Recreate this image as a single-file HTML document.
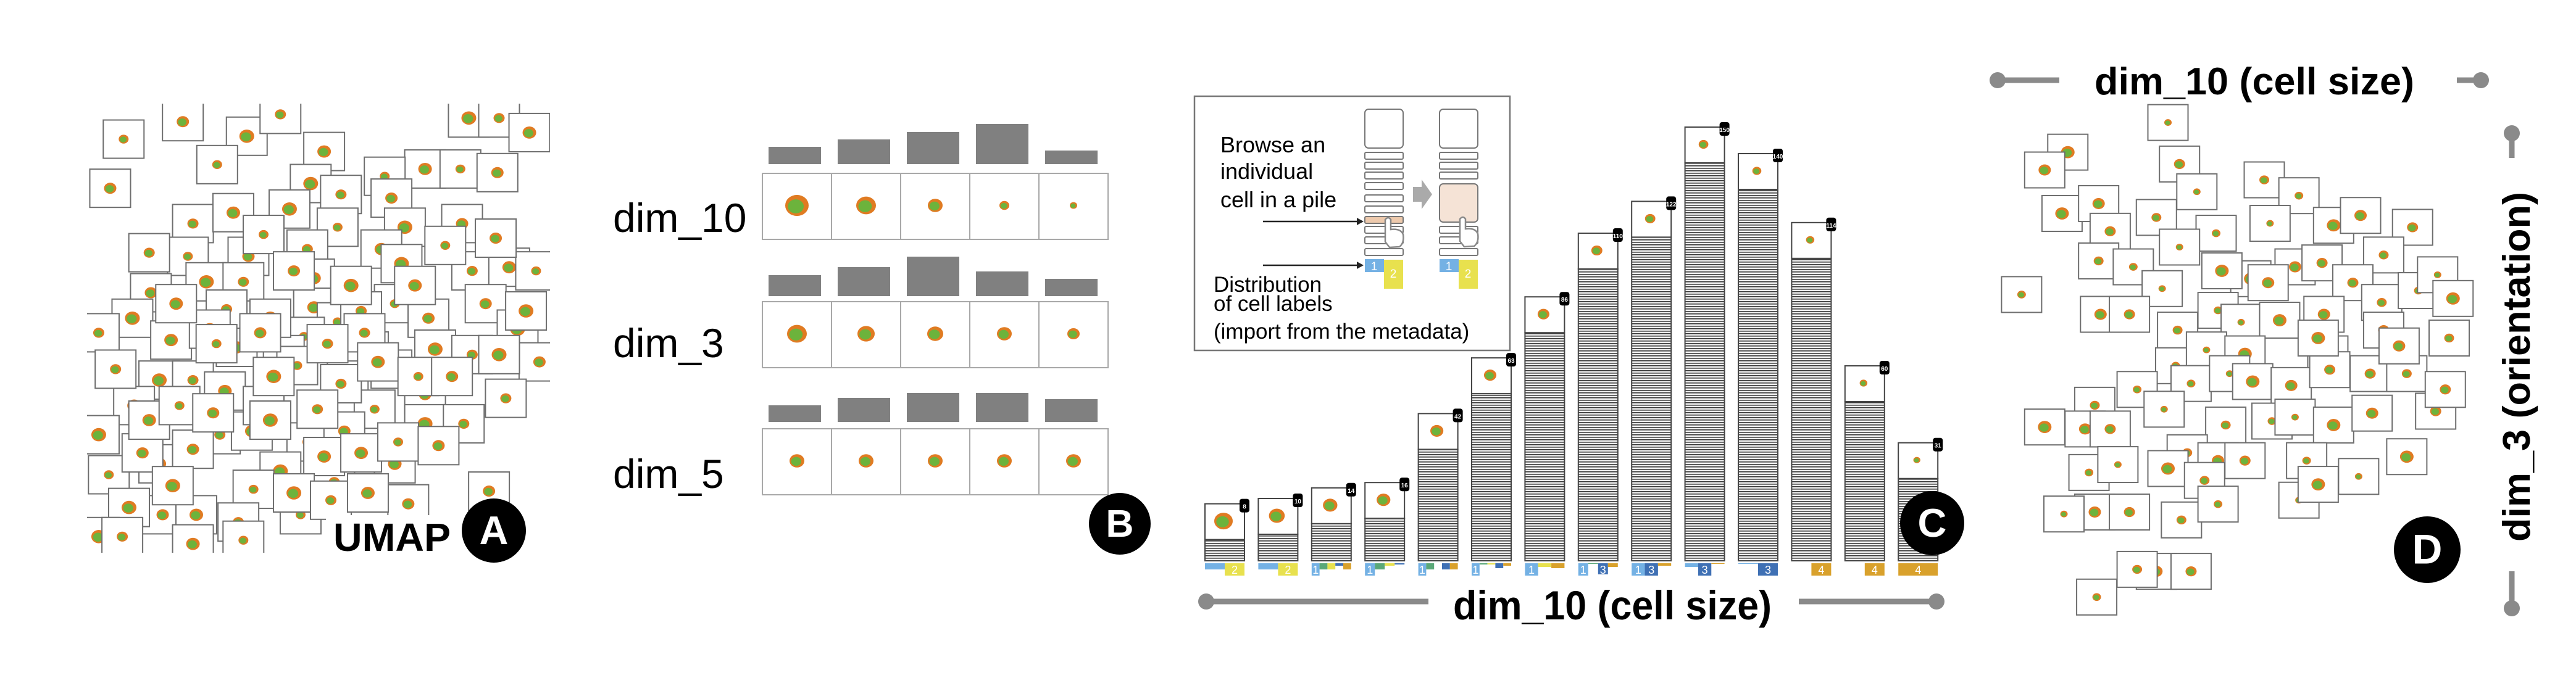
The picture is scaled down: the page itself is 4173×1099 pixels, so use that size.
<!DOCTYPE html>
<html><head><meta charset="utf-8"><title>Cell piles figure</title>
<style>
html,body{margin:0;padding:0;background:#fff;}
svg{display:block;font-family:"Liberation Sans",sans-serif;}
</style></head>
<body>
<svg id="fig" xmlns="http://www.w3.org/2000/svg" width="4173" height="1099" viewBox="0 0 4173 1099">
<defs>
<pattern id="stripes" patternUnits="userSpaceOnUse" width="10" height="4">
<rect width="10" height="4" fill="#f4f4f4"/><rect y="0" width="10" height="1.6" fill="#3a3a3a"/>
</pattern>
</defs>
<rect width="4173" height="1099" fill="#fff"/>
<g id="panelA"></g>
<g id="panelB"></g>
<g id="panelC"></g>
<g id="panelD"></g>
</svg>
<script>
// ---------- data ----------
const umapX=[1.84,3.6,5.5,6.5,7.8,4.62,1.44,7.4,8.3,10.8,11.85,12.95,12.1,13.0,13.9,9.6,9.8,6.77,3.9,5.1,8.2,11.9,10.2,7.3,9.5,3.75,5.55,10.1,12.2,13.3,14.1,2.65,4.3,5.4,7.5,9.9,12.6,2.1,4.9,7.5,8.2,10.9,13.55,1.1,3.25,7.2,9.1,11.1,12.2,5.2,6.6,14.2,2.9,3.9,4.85,7.0,8.5,9.8,13.2,2.15,9.3,10.8,1.1,4.7,5.65,7.3,8.4,10.8,11.95,2.9,1.4,3.9,6.5,8.1,9.9,5.7,3.0,2.0,5.25,4.0,7.1,10.3,1.1,1.8,3.9,5.4,12.7,6.2,8.9,4.4,6.0,2.4,3.3,8.3,7.8,
 6.0,6.9,8.6,9.0,10.5,11.4,12.9,13.8,2.6,3.4,4.6,5.9,6.3,7.9,9.4,10.6,11.6,13.0,1.6,2.6,3.5,4.5,6.2,7.6,8.9,10.0,11.2,6.9,8.0,9.1];
const umapY=[1.28,0.8,1.2,0.6,1.62,1.98,2.63,2.5,2.8,2.1,2.1,2.2,0.7,0.7,1.1,2.3,2.9,3.2,3.6,3.3,3.7,3.6,3.7,4.3,4.3,4.5,4.5,4.7,4.9,4.8,4.9,5.5,5.2,5.2,5.1,5.8,5.8,6.2,5.95,5.9,6.3,6.2,6.5,6.6,6.8,6.7,7.1,7.05,7.2,7.0,7.2,7.4,7.9,7.9,8.2,7.5,7.9,7.6,8.4,8.6,8.7,8.3,9.4,9.4,9.3,9.6,9.3,9.1,9.1,10.2,10.5,9.8,10.4,10.7,10.2,10.9,11.6,11.4,11.8,11.6,11.6,11.3,12.2,12.2,12.4,12.3,10.95,6.2,6.0,6.5,8.6,9.9,10.8,8.0,10.0,
 3.9,4.9,5.3,6.6,5.3,4.2,4.0,6.0,4.4,5.8,6.9,6.6,7.8,6.9,7.4,7.8,7.8,7.2,7.6,9.0,8.6,8.8,9.0,8.7,9.9,9.6,9.7,11.0,11.2,11.0];
const tsneX=[5.0,2.4,1.8,5.3,7.5,8.4,5.75,2.25,3.2,3.5,4.7,6.25,7.65,9.3,10.0,11.35,3.2,4.1,5.3,7.15,8.3,9.0,10.6,1.2,4.85,6.4,7.6,9.8,10.55,11.5,12.0,12.4,3.25,4.0,5.25,6.3,6.9,7.9,9.05,10.6,12.3,5.2,6.0,7.0,9.15,10.25,11.2,5.6,6.6,7.2,8.2,9.2,3.1,4.2,4.9,1.8,2.85,3.5,6.5,7.7,8.3,9.3,10.3,11.95,5.5,2.95,3.7,5.0,6.3,7.0,5.95,8.6,9.95,11.2,3.1,4.0,5.35,6.3,8.4,8.9,4.7,5.6,4.2,3.15,2.3,8.9,11.0,12.2];
const tsneY=[1.85,2.6,3.05,2.9,3.3,3.7,3.6,4.15,3.9,4.6,4.25,4.65,4.4,4.45,4.2,4.5,5.35,5.5,5.0,5.8,5.5,5.4,5.2,6.2,6.05,5.6,5.9,5.9,6.4,6.1,5.7,6.3,6.7,6.7,7.1,6.6,6.9,6.85,6.7,7.1,7.3,8.0,7.6,7.7,7.7,8.2,8.2,8.45,8.2,8.4,8.5,8.1,9.0,8.6,9.1,9.55,9.6,9.6,9.5,9.4,9.3,9.5,9.2,9.15,10.2,10.7,10.5,10.6,10.4,10.4,10.9,10.4,10.8,10.3,11.7,11.7,11.9,11.5,11.4,11.0,13.2,13.2,13.15,13.85,11.75,7.3,7.5,8.6];
const histDim10=[28,40,52,65,22];
const histDim3=[34,47,64,40,28];
const histDim5=[27,39,47,47,37];
const blobDim10=[19,16,12,8,6];
const blobDim3=[16,14,13,12,10];
const blobDim5=[12,12,12,12,12];
const pileCounts=[8,10,14,16,42,63,86,110,122,150,140,114,60,31];
const pileLabelCats=[[1,2],[1,2],[1,5,2,3,4],[1,5,2,3],[1,5,2,3,4],[1,5,2,3,4],[1,2,4],[1,5,3,4],[1,3,4],[1,3,4],[1,3],[3,4],[3,4],[4]];
const pileLabelShares=[[.5,1],[.5,1],[1,.5,.5,.2,.5],[1,.5,.2,.1],[1,.5,0,.5,.5],[1,.1,.1,.4,.2],[1,.3,.4],[1,.05,.9,.3],[1,1,.2],[.3,1,.05],[.05,1],[0,1],[0,1],[1]];
const pileBlob=[20,16,14,13,12,11,10,9,8,7,6,5,4,3];

// ---------- helpers ----------
const NS="http://www.w3.org/2000/svg";
function mk(tag,attrs,parent){const e=document.createElementNS(NS,tag);for(const k in attrs)e.setAttribute(k,attrs[k]);parent.appendChild(e);return e;}
const catColor={1:"#74b1e4",2:"#e8e14e",3:"#3f70b4",4:"#d9a12c",5:"#5aa878"};
function blob(g,cx,cy,r){
  const o=mk("ellipse",{cx:cx,cy:cy,rx:r,ry:r*0.9,fill:"#e07b22"},g);
  
  
  const n=mk("ellipse",{cx:cx-r*0.1,cy:cy+r*0.08,rx:r*0.68,ry:r*0.6,fill:"#6cb33c"},g);
  
  
}
function thumb(g,cx,cy,w,h,r){
  const t=mk("g",{},g);
  
  
  mk("rect",{x:cx-w/2,y:cy-h/2,width:w,height:h,fill:"#fff",stroke:"#6e6e6e","stroke-width":2},t);
  blob(t,cx,cy,r);
}
function badge(g,cx,cy,letter,r){
  const b=mk("g",{},g);
  
  
  mk("circle",{cx:cx,cy:cy,r:r,fill:"#000"},b);
  const t=mk("text",{x:cx,y:cy+r*0.42,"text-anchor":"middle","font-size":r*1.25,"font-weight":"bold",fill:"#fff"},b);
  t.textContent=letter;
}
function axisLine(g,x1,y1,x2,y2,dotAtStart,name){
  const a=mk("g",{},g);
  
  
  mk("line",{x1:x1,y1:y1,x2:x2,y2:y2,stroke:"#8a8a8a","stroke-width":9},a);
  mk("circle",{cx:dotAtStart?x1:x2,cy:dotAtStart?y1:y2,r:13,fill:"#8a8a8a"},a);
}

// ---------- Panel A ----------
const A=document.getElementById("panelA");
const ax=v=>100+54.5*v, ay=v=>150+59*v;
const aClip=mk("clipPath",{id:"clipA"},document.querySelector("defs"));
mk("rect",{x:141,y:168,width:750,height:728},aClip);
const aG=mk("g",{"clip-path":"url(#clipA)"},A);
for(let i=0;i<umapX.length;i++){thumb(aG,ax(umapX[i]),ay(umapY[i]),66,62,8+((i*7)%5));}
mk("rect",{x:528,y:835,width:210,height:70,fill:"#fff"},A);
const umapT=mk("text",{x:540,y:893,"font-size":64,"font-weight":"bold",textLength:190,lengthAdjust:"spacingAndGlyphs"},A);


umapT.textContent="UMAP";
badge(A,800,860,"A",52);

// ---------- Panel B ----------
const B=document.getElementById("panelB");
const rows=[{name:"dim_10",h:histDim10,b:blobDim10,barBase:266,cellTop:281,base:376},
            {name:"dim_3",h:histDim3,b:blobDim3,barBase:480,cellTop:489,base:579},
            {name:"dim_5",h:histDim5,b:blobDim5,barBase:684,cellTop:695,base:791}];
const bx=i=>1235+112*i;
rows.forEach((row,ri)=>{
  const rg=mk("g",{},B);
  
  
  const lab=mk("text",{x:993,y:row.base,"font-size":66},rg);
  
  
  lab.textContent=row.name;
  row.h.forEach((v,i)=>{
    const bar=mk("rect",{x:bx(i)+10,y:row.barBase-v,width:85,height:v,fill:"#808080"},rg);
    
    
    const c=mk("g",{},rg);
    
    
    mk("rect",{x:bx(i),y:row.cellTop,width:112,height:107,fill:"#fff",stroke:"#a8a8a8","stroke-width":2},c);
    blob(c,bx(i)+56,row.cellTop+52,row.b[i]);
  });
});
badge(B,1814,849,"B",50);

// ---------- Panel C ----------
const C=document.getElementById("panelC");
const px=i=>1952+86.4*i;
const pileBottom=909, perItem=4.3;
const py=v=>pileBottom-v*perItem;
pileCounts.forEach((n,i)=>{
  const g=mk("g",{},C);
  
  
  const x=px(i), top=py(n);
  mk("rect",{x:x,y:top,width:64,height:pileBottom-top,fill:"url(#stripes)",stroke:"#444","stroke-width":2},g);
  mk("rect",{x:x,y:top-58,width:64,height:58,fill:"#fff",stroke:"#444","stroke-width":2},g);
  blob(g,x+30,top-30,pileBlob[i]*0.55+4);
  const bd=mk("g",{},g);
  
  
  mk("rect",{x:x+56,y:top-66,width:16,height:22,rx:4,fill:"#000"},bd);
  const bt=mk("text",{x:x+64,y:top-50,"font-size":10,"font-weight":"bold",fill:"#fff","text-anchor":"middle"},bd);
  bt.textContent=n;
  const cats=pileLabelCats[i], sh=pileLabelShares[i], w=64/cats.length;
  cats.forEach((cat,k)=>{
    const hh=20*sh[k]; if(hh<=0)return;
    const s=mk("rect",{x:x+k*w,y:913,width:w,height:hh,fill:catColor[cat]},g);
    
    
    if(hh>=14){const t=mk("text",{x:x+k*w+w/2,y:930,"font-size":18,fill:"#fff","text-anchor":"middle"},g);t.textContent=cat;}
  });
});
axisLine(C,1954,975,2314,975,true,"x-axis-line-left");
axisLine(C,2914,975,3137,975,false,"x-axis-line-right");
const ct=mk("text",{x:2354,y:1004,"font-size":66,"font-weight":"bold",textLength:516,lengthAdjust:"spacingAndGlyphs"},C);


ct.textContent="dim_10 (cell size)";
badge(C,3130,848,"C",52);

// inset
const I=mk("g",{},C);


mk("rect",{x:1935,y:156,width:511,height:412,fill:"#fff",stroke:"#777","stroke-width":2.5},I);
[["Browse an",247],["individual",290],["cell in a pile",336]].forEach(l=>{const t=mk("text",{x:1977,y:l[1],"font-size":36},I);t.textContent=l[0];});
[["Distribution",473],["of cell labels",504],["(import from the metadata)",549]].forEach(l=>{const t=mk("text",{x:1966,y:l[1],"font-size":35},I);t.textContent=l[0];});
const rowsL=[247,263,279,296,316,334,351,367,384,403];
[2211,2332].forEach((x0,pi)=>{
  mk("rect",{x:x0,y:177,width:62,height:63,rx:6,fill:"#fff",stroke:"#777","stroke-width":2},I);
  rowsL.forEach((ry,k)=>{
    if(pi===1&&k>=3&&k<=6){ if(k===3) mk("rect",{x:x0,y:298,width:62,height:62,rx:6,fill:"#f5e3d6",stroke:"#777","stroke-width":2},I); return;}
    mk("rect",{x:x0,y:ry,width:62,height:11,rx:2,fill:(pi===0&&k===6)?"#eecaad":"#fff",stroke:"#777","stroke-width":2},I);
  });
  mk("rect",{x:x0,y:420,width:31,height:21,fill:catColor[1]},I);
  mk("rect",{x:x0+31,y:421,width:31,height:47,fill:catColor[2]},I);
  const t1=mk("text",{x:x0+15,y:438,"font-size":19,fill:"#fff","text-anchor":"middle"},I);t1.textContent="1";
  const t2=mk("text",{x:x0+46,y:450,"font-size":19,fill:"#fff","text-anchor":"middle"},I);t2.textContent="2";
  const hy=pi===0?356:355;
  const hand=mk("path",{d:`M${x0+33},${hy+36} L${x0+33},${hy} q5,-6 9,0 L${x0+42},${hy+16} q16,-2 20,8 q2,14 -6,20 L${x0+40},${hy+45} Z`,fill:"#fff",stroke:"#888","stroke-width":2.5},I);
  
  
});
mk("polygon",{points:"2289,303 2303,303 2303,291 2320,315 2303,339 2303,327 2289,327",fill:"#aaa"},I);
[359,430].forEach(yy=>{
  mk("line",{x1:2046,y1:yy,x2:2200,y2:yy,stroke:"#222","stroke-width":2.5},I);
  mk("polygon",{points:`2198,${yy-6} 2209,${yy} 2198,${yy+6}`,fill:"#222"},I);
});

// ---------- Panel D ----------
const D=document.getElementById("panelD");
const dx=v=>3200+62.4*v, dy=v=>80+64.1*v;
for(let i=0;i<tsneX.length;i++){thumb(D,dx(tsneX[i]),dy(tsneY[i]),65,58,6+((i*5)%6));}
axisLine(D,3336,130,3236,130,false,"top-axis-line-left");
axisLine(D,3980,130,4019,130,false,"top-axis-line-right");
const dt=mk("text",{x:3393,y:153,"font-size":62,"font-weight":"bold",textLength:518,lengthAdjust:"spacingAndGlyphs"},D);


dt.textContent="dim_10 (cell size)";
axisLine(D,4069,256,4069,216,false,"right-axis-line-top");
axisLine(D,4069,926,4069,986,false,"right-axis-line-bottom");
const vt=mk("text",{x:0,y:0,"font-size":62,"font-weight":"bold",textLength:567,lengthAdjust:"spacingAndGlyphs",transform:"translate(4098,878) rotate(-90)"},D);


vt.textContent="dim_3 (orientation)";
badge(D,3932,891,"D",54);
</script>
</body></html>
